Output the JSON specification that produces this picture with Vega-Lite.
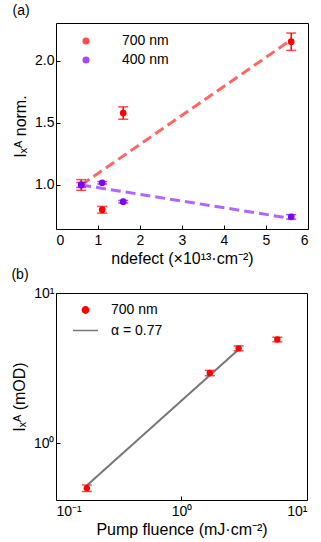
{
  "$schema": "https://vega.github.io/schema/vega-lite/v6.json",
  "padding": {"left": 10, "top": 3, "right": 0, "bottom": 2},
  "config": {
    "font": "Liberation Sans",
    "view": {"stroke": "black", "strokeWidth": 1},
    "axis": {"grid": false, "domain": false, "tickSize": -4, "tickColor": "black", "labelPadding": 6, "labelFontSize": 14, "labelColor": "black", "titleFontSize": 16, "titleFontWeight": "normal", "titleColor": "black", "labelFont": "Liberation Sans", "titleFont": "Liberation Sans", "titlePadding": 6},
    "axisX": {"labelPadding": 8, "titlePadding": 3},
    "legend": {"labelFontSize": 14, "labelFont": "Liberation Sans", "labelColor": "black"},
    "title": {"fontSize": 14, "fontWeight": "normal", "font": "Liberation Sans", "anchor": "start", "frame": "bounds", "color": "black"}
  },
  "resolve": {"scale": {"color": "independent", "shape": "independent", "size": "independent"}, "legend": {"color": "independent", "shape": "independent", "size": "independent"}},
  "datasets": {
    "a": [
      {"n": 0.6, "v": 1.0, "lo": 0.957, "hi": 1.043, "s": "700 nm"},
      {"n": 1.1, "v": 0.80, "lo": 0.773, "hi": 0.827, "s": "700 nm"},
      {"n": 1.6, "v": 1.58, "lo": 1.53, "hi": 1.63, "s": "700 nm"},
      {"n": 5.6, "v": 2.155, "lo": 2.085, "hi": 2.225, "s": "700 nm"},
      {"n": 0.6, "v": 1.0, "lo": 0.98, "hi": 1.02, "s": "400 nm"},
      {"n": 1.1, "v": 1.018, "lo": 1.008, "hi": 1.028, "s": "400 nm"},
      {"n": 1.6, "v": 0.865, "lo": 0.855, "hi": 0.875, "s": "400 nm"},
      {"n": 5.6, "v": 0.743, "lo": 0.725, "hi": 0.761, "s": "400 nm"}
    ],
    "fitRed": [{"n": 0.6, "v": 1.0}, {"n": 5.6, "v": 2.17}],
    "fitPurple": [{"n": 0.6, "v": 1.0}, {"n": 5.6, "v": 0.73}],
    "b": [
      {"f": 0.176, "v": 0.50, "lo": 0.475, "hi": 0.525, "s": "700 nm"},
      {"f": 1.68, "v": 2.93, "lo": 2.81, "hi": 3.05, "s": "700 nm"},
      {"f": 2.85, "v": 4.28, "lo": 4.12, "hi": 4.44, "s": "700 nm"},
      {"f": 5.8, "v": 4.9, "lo": 4.73, "hi": 5.07, "s": "700 nm"}
    ],
    "fitB": [{"f": 0.176, "v": 0.52, "s": "α = 0.77"}, {"f": 2.85, "v": 4.2, "s": "α = 0.77"}]
  },
  "vconcat": [
    {
      "title": {"text": "(a)", "offset": 5},
      "width": 252,
      "height": 206,
      "layer": [
        {
          "data": {"name": "fitRed"},
          "mark": {"type": "line", "color": "#ff6666", "strokeWidth": 3, "strokeDash": [10, 5]},
          "encoding": {
            "x": {"field": "n", "type": "quantitative"},
            "y": {"field": "v", "type": "quantitative"}
          }
        },
        {
          "data": {"name": "fitPurple"},
          "mark": {"type": "line", "color": "#b366ff", "strokeWidth": 3, "strokeDash": [10, 5]},
          "encoding": {
            "x": {"field": "n", "type": "quantitative"},
            "y": {"field": "v", "type": "quantitative"}
          }
        },
        {
          "data": {"name": "a"},
          "mark": {"type": "rule", "strokeWidth": 1.5},
          "encoding": {
            "x": {"field": "n", "type": "quantitative"},
            "y": {"field": "lo", "type": "quantitative"},
            "y2": {"field": "hi"},
            "color": {"field": "s", "type": "nominal"}
          }
        },
        {
          "data": {"name": "a"},
          "mark": {"type": "tick", "orient": "horizontal", "size": 10, "thickness": 1.5},
          "encoding": {
            "x": {"field": "n", "type": "quantitative"},
            "y": {"field": "lo", "type": "quantitative"},
            "color": {"field": "s", "type": "nominal"}
          }
        },
        {
          "data": {"name": "a"},
          "mark": {"type": "tick", "orient": "horizontal", "size": 10, "thickness": 1.5},
          "encoding": {
            "x": {"field": "n", "type": "quantitative"},
            "y": {"field": "hi", "type": "quantitative"},
            "color": {"field": "s", "type": "nominal"}
          }
        },
        {
          "data": {"name": "a"},
          "mark": {"type": "point", "filled": true, "opacity": 1, "size": 45},
          "encoding": {
            "x": {"field": "n", "type": "quantitative", "scale": {"domain": [0, 6], "nice": false}, "axis": {"values": [0, 1, 2, 3, 4, 5, 6], "title": "ndefect (×10¹³·cm⁻²)"}},
            "y": {"field": "v", "type": "quantitative", "scale": {"domain": [0.645, 2.306], "nice": false, "zero": false}, "axis": {"values": [1.0, 1.5, 2.0], "format": ".1f", "title": "Iₓᴬ norm."}},
            "color": {"field": "s", "type": "nominal", "scale": {"domain": ["700 nm", "400 nm"], "range": ["#ff0000", "#8000ff"]}, "legend": {"title": null, "orient": "none", "legendX": 23, "legendY": 11, "symbolSize": 32, "labelOffset": 29, "rowPadding": 5, "symbolType": "circle"}}
          }
        }
      ]
    },
    {
      "title": {"text": "(b)", "offset": 4},
      "width": 251,
      "height": 207,
      "layer": [
        {
          "data": {"name": "fitB"},
          "mark": {"type": "line", "strokeWidth": 2},
          "encoding": {
            "x": {"field": "f", "type": "quantitative"},
            "y": {"field": "v", "type": "quantitative"},
            "color": {"field": "s", "type": "ordinal"}
          }
        },
        {
          "data": {"name": "b"},
          "mark": {"type": "rule", "strokeWidth": 1.5, "color": "#ff0000"},
          "encoding": {
            "x": {"field": "f", "type": "quantitative"},
            "y": {"field": "lo", "type": "quantitative"},
            "y2": {"field": "hi"}
          }
        },
        {
          "data": {"name": "b"},
          "mark": {"type": "tick", "orient": "horizontal", "size": 10, "thickness": 1.5, "color": "#ff0000"},
          "encoding": {
            "x": {"field": "f", "type": "quantitative"},
            "y": {"field": "lo", "type": "quantitative"}
          }
        },
        {
          "data": {"name": "b"},
          "mark": {"type": "tick", "orient": "horizontal", "size": 10, "thickness": 1.5, "color": "#ff0000"},
          "encoding": {
            "x": {"field": "f", "type": "quantitative"},
            "y": {"field": "hi", "type": "quantitative"}
          }
        },
        {
          "data": {"name": "b"},
          "mark": {"type": "point", "filled": true, "opacity": 1},
          "encoding": {
            "x": {"field": "f", "type": "quantitative", "scale": {"type": "log", "domain": [0.1, 10], "nice": false}, "axis": {"values": [0.1, 1, 10], "labelExpr": "datum.value < 0.5 ? '10⁻¹' : datum.value < 5 ? '10⁰' : '10¹'", "title": "Pump fluence (mJ·cm⁻²)"}},
            "y": {"field": "v", "type": "quantitative", "scale": {"type": "log", "domain": [0.417, 10], "nice": false}, "axis": {"values": [1, 10], "labelExpr": "datum.value < 5 ? '10⁰' : '10¹'", "title": "Iₓᴬ (mOD)"}},
            "color": {"field": "s", "type": "ordinal", "scale": {"domain": ["700 nm", "α = 0.77"], "range": ["#ff0000", "#777777"]}, "legend": {"title": null, "orient": "none", "legendX": 16, "legendY": 10, "labelOffset": 12, "rowPadding": -7, "encode": {"symbols": {"update": {"stroke": {"scale": "color", "field": "value"}, "strokeWidth": {"value": 2}}}}}},
            "shape": {"field": "s", "type": "ordinal", "scale": {"domain": ["700 nm", "α = 0.77"], "range": ["circle", "stroke"]}, "legend": {"title": null}},
            "size": {"field": "s", "type": "ordinal", "scale": {"domain": ["700 nm", "α = 0.77"], "range": [40, 625]}, "legend": {"title": null}}
          }
        }
      ],
      "resolve": {"scale": {"color": "shared", "shape": "shared", "size": "shared"}}
    }
  ],
  "spacing": 0
}
